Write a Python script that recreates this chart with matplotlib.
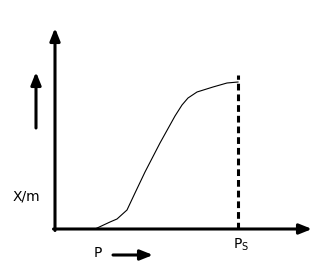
"""Adsorption isotherm sketch: X/m against pressure P, saturating at Ps."""
import matplotlib
matplotlib.use("Agg")
import matplotlib.pyplot as plt

plt.rcParams["font.family"] = "DejaVu Sans"
plt.rcParams["mathtext.default"] = "regular"

# curve (arbitrary units, origin at the axes corner)
P = [40, 55, 62, 72, 80, 90, 105, 120, 127, 133, 142, 158, 172, 183]
XM = [0, 7, 10, 19, 36, 57, 86, 113, 124, 131, 137, 142, 146, 147]
PS = 183
PS_TOP = 154
X_END, Y_END = 257, 201

fig = plt.figure(figsize=(3.22, 2.67), dpi=100)
ax = fig.add_axes([0, 0, 1, 1])
ax.set_xlim(-55, 267)
ax.set_ylim(-38, 229)
ax.axis("off")

head = "-|>,head_length=0.75,head_width=0.3"
arrow = dict(arrowstyle=head, lw=2.2, color="black", shrinkA=0, shrinkB=0,
             mutation_scale=10)

# axes with arrow heads
ax.annotate("", xy=(0, Y_END), xytext=(0, -1.5), arrowprops=arrow)
ax.annotate("", xy=(X_END, 0), xytext=(-1.5, 0), arrowprops=arrow)

# isotherm and saturation line
ax.plot(P, XM, color="black", lw=0.8)
ax.plot([PS, PS], [0, PS_TOP], color="black", lw=2.2, ls=(0, (2.2, 1.3)))

# direction arrows
ax.annotate("", xy=(-19, 157), xytext=(-19, 101), arrowprops=arrow)
ax.annotate("", xy=(98, -26), xytext=(58, -26), arrowprops=arrow)

ax.text(-28.5, 32, "X/m", ha="center", va="center", fontsize=10)
ax.text(42.5, -24, "P", ha="center", va="center", fontsize=10)
ax.text(186, -16, "P$_S$", ha="center", va="center", fontsize=10)

fig.savefig("out.png", dpi=100)
